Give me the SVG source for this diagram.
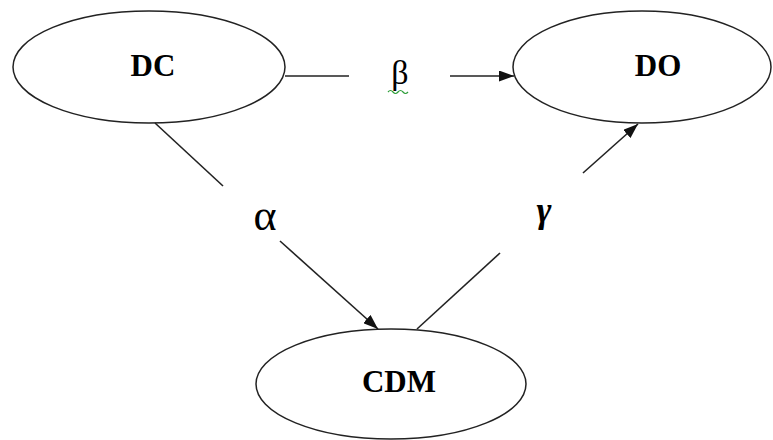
<svg xmlns="http://www.w3.org/2000/svg" width="773" height="440" viewBox="0 0 773 440">
  <style>
    .node ellipse { fill: #ffffff; stroke: #222222; stroke-width: 1.5; }
    .node text { font-family: "Liberation Serif", "Times New Roman", serif; font-weight: bold; font-size: 31px; fill: #000000; text-anchor: middle; }
    .edge { stroke: #222222; stroke-width: 1.6; fill: none; }
    .lbl { font-family: "Liberation Serif", "DejaVu Serif", serif; fill: #000000; text-anchor: middle; }
  </style>
  <defs>
    <marker id="arrow" viewBox="0 0 15 11" refX="15" refY="5.5" markerWidth="15" markerHeight="11" markerUnits="userSpaceOnUse" orient="auto">
      <path d="M0,0 L15,5.5 L0,11 Z" fill="#111111"/>
    </marker>
  </defs>
  <rect width="773" height="440" fill="#ffffff"/>

  <g id="node-dc" class="node">
    <ellipse cx="149" cy="67" rx="136" ry="56"/>
    <text x="153" y="76">DC</text>
  </g>
  <g id="node-do" class="node">
    <ellipse cx="642" cy="67" rx="129" ry="56"/>
    <text x="658" y="76">DO</text>
  </g>
  <g id="node-cdm" class="node">
    <ellipse cx="391" cy="384" rx="135" ry="55"/>
    <text x="399" y="392">CDM</text>
  </g>

  <g id="connectors">
    <!-- DC to DO (beta) -->
    <line class="edge" x1="285" y1="76" x2="349" y2="76"/>
    <line class="edge" x1="450" y1="76" x2="514" y2="76" marker-end="url(#arrow)"/>
    <!-- DC to CDM (alpha) -->
    <line class="edge" x1="155" y1="123" x2="223" y2="186"/>
    <line class="edge" x1="280" y1="241" x2="378" y2="329" marker-end="url(#arrow)"/>
    <!-- CDM to DO (gamma) -->
    <line class="edge" x1="417" y1="329" x2="500" y2="253"/>
    <line class="edge" x1="583" y1="173" x2="638" y2="124" marker-end="url(#arrow)"/>

    <text class="lbl" x="400" y="84" font-size="34">β</text>
    <path d="M388,92 q2.5,-3 5,0 t5,0 t5,0 t5,0" fill="none" stroke="#2e9e3a" stroke-width="1.2"/>
    <text class="lbl" x="265" y="230" font-size="44">α</text>
    <text class="lbl" x="544" y="222" font-size="36" font-weight="bold" font-style="italic">γ</text>
  </g>
</svg>
